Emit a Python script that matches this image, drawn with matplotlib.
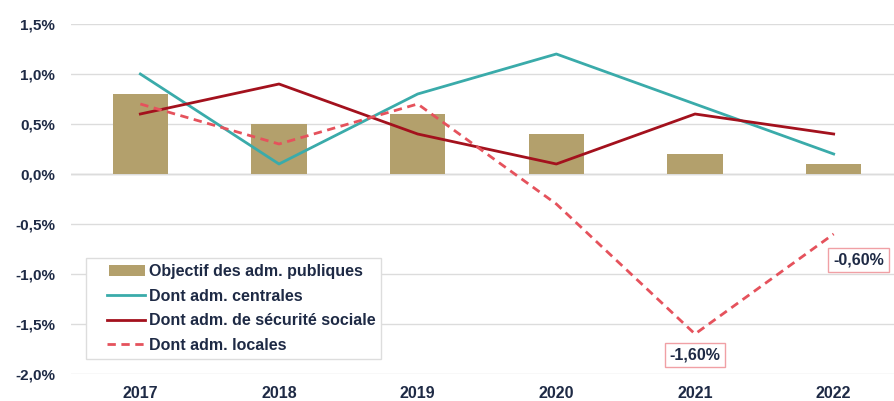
import matplotlib
matplotlib.use("Agg")
import matplotlib.pyplot as plt
from matplotlib.legend_handler import HandlerPatch, HandlerLine2D
import numpy as np

plt.rcParams["font.family"] = ["Liberation Sans", "DejaVu Sans"]

years      = ["2017", "2018", "2019", "2020", "2021", "2022"]
objectif   = [0.8, 0.5, 0.6, 0.4, 0.2, 0.1]
centrales  = [1.0, 0.1, 0.8, 1.2, 0.7, 0.2]
securite   = [0.6, 0.9, 0.4, 0.1, 0.6, 0.4]
locales    = [0.7, 0.3, 0.7, -0.3, -1.6, -0.6]
yticks     = [-2.0, -1.5, -1.0, -0.5, 0.0, 0.5, 1.0, 1.5]
ytick_lbl  = ["-2,0%", "-1,5%", "-1,0%", "-0,5%", "0,0%", "0,5%", "1,0%", "1,5%"]
labels     = ["Objectif des adm. publiques", "Dont adm. centrales",
              "Dont adm. de sécurité sociale", "Dont adm. locales"]

navy = "#1e2a45"
W, H = 895, 401
fig = plt.figure(figsize=(W / 100, H / 100), dpi=100)
ax = fig.add_axes([71 / W, 27 / H, 832 / W, 350 / H])

x = np.arange(len(years))
bars = ax.bar(x, objectif, width=0.4, color="#b3a06c", zorder=2)
l1, = ax.plot(x, centrales, color="#3aabaa", lw=2.0, zorder=3)
l2, = ax.plot(x, securite, color="#a3111d", lw=2.0, zorder=3)
l3, = ax.plot(x, locales, color="#e5525c", lw=2.0, ls=(0, (3, 2)), zorder=3)

ax.set_xlim(-0.5, 5.5)
ax.set_ylim(-2.0, 1.5)
ax.set_yticks(yticks)
ax.set_yticklabels(ytick_lbl)
ax.set_xticks(x)
ax.set_xticklabels(years)
ax.yaxis.grid(True, color="#dcdcdc", lw=1.0, zorder=0)
ax.axhline(0, color="#c8c8c8", lw=1.0, zorder=1)
for s in ax.spines.values():
    s.set_visible(False)
ax.tick_params(length=0, labelcolor=navy)
ax.tick_params(axis="y", pad=11.5, labelsize=11)
ax.tick_params(axis="x", pad=9, labelsize=11.5)
for t in ax.get_xticklabels() + ax.get_yticklabels():
    t.set_fontweight("bold")

# data labels on the local administrations line
box = dict(boxstyle="square,pad=0.3", fc="white", ec="#f0a0a5", lw=1.0)
ax.annotate("-1,60%", (4, -1.6), xytext=(0, -21), textcoords="offset pixels",
            ha="center", va="center", fontsize=11.5, fontweight="bold",
            color=navy, bbox=box, zorder=5)
ax.annotate("-0,60%", (5, -0.6), xytext=(25, -26), textcoords="offset pixels",
            ha="center", va="center", fontsize=11.5, fontweight="bold",
            color=navy, bbox=box, zorder=5)


def first_child(legend_handle, orig_handle):
    legend_handle.update_from(orig_handle.patches[0])


hmap = {bars: HandlerPatch(xpad=1.06, update_func=first_child),
        l1: HandlerLine2D(xpad=0.94),
        l2: HandlerLine2D(xpad=0.94),
        l3: HandlerLine2D(xpad=0.94)}
leg = ax.legend([bars, l1, l2, l3], labels, loc="upper left",
                bbox_to_anchor=(86 / W, (H - 258) / H), bbox_transform=fig.transFigure,
                borderaxespad=0, frameon=True, fancybox=False, framealpha=1,
                edgecolor="#dddddd", fontsize=11.5, handlelength=3.3,
                handletextpad=0.25, labelspacing=0.6, borderpad=0.38,
                handler_map=hmap)
for t in leg.get_texts():
    t.set_fontweight("bold")
    t.set_color(navy)
leg.set_zorder(6)

fig.savefig("out.png", dpi=100)
